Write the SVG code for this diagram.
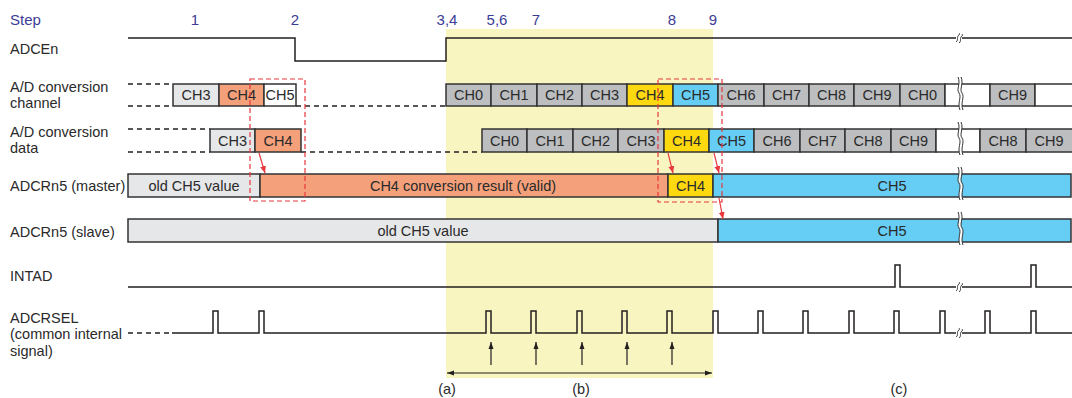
<svg xmlns="http://www.w3.org/2000/svg" xmlns:xlink="http://www.w3.org/1999/xlink" width="1072" height="398" viewBox="0 0 1072 398">
<style>
text{font-family:"Liberation Sans",Arial,Helvetica,sans-serif;font-size:14.5px;fill:#2a2a2a}
.step{fill:#3c3c96;font-size:15px}
.c{text-anchor:middle}
.box{stroke:#333;stroke-width:1.5}
.gy{fill:#bcbec0}
.lg{fill:#e6e7e8}
.or{fill:#f4a07a}
.ye{fill:#ffd90f}
.bl{fill:#66cdf5}
.wh{fill:#fff}
.sig{fill:none;stroke:#231f20;stroke-width:1.5}
.dash{fill:none;stroke:#231f20;stroke-width:1.5;stroke-dasharray:5,4}
.red{fill:none;stroke:#e8383d;stroke-width:1.2;stroke-dasharray:5,3}
.rarr{fill:none;stroke:#e8383d;stroke-width:1.2;marker-end:url(#rhead)}
.karr{fill:none;stroke:#231f20;stroke-width:1.2}
.bk{fill:none;stroke:#333;stroke-width:1}
</style>
<defs>
<marker id="rhead" markerWidth="8" markerHeight="8" refX="7" refY="4" orient="auto" markerUnits="userSpaceOnUse"><path d="M0,1 L7,4 L0,7 Z" fill="#e8383d"/></marker>
<marker id="khead" markerWidth="8" markerHeight="8" refX="7" refY="4" orient="auto-start-reverse" markerUnits="userSpaceOnUse"><path d="M0,1.5 L7,4 L0,6.5 Z" fill="#231f20"/></marker>
<g id="brkBox">
<path d="M-2,-5 C1,2 -4,7 -1,11 C2,15 -3,21 0,28 L3,28 C0,21 5,15 2,11 C-1,7 4,2 1,-5 Z" fill="#fff"/>
<path class="bk" d="M-2,-5 C1,2 -4,7 -1,11 C2,15 -3,21 0,28"/>
<path class="bk" d="M1,-5 C4,2 -1,7 2,11 C5,15 0,21 3,28"/>
</g>
<g id="brkSig">
<rect x="-3" y="-5" width="6" height="10" fill="#fff"/>
<path class="bk" d="M-3,4 C0,2 -3,-1 0,-3 C1,-4 0,-5 0,-5"/>
<path class="bk" d="M0,5 C3,3 0,0 3,-2 C4,-3 3,-4 3,-4"/>
</g>
</defs>
<rect x="0" y="0" width="1072" height="398" fill="#fff"/>
<rect id="windowB" x="446" y="29" width="267" height="349" fill="#f8f5c0"/>

<g id="labels">
<text x="10" y="25" class="step">Step</text>
<text x="10" y="54">ADCEn</text>
<text x="10" y="92">A/D conversion</text>
<text x="10" y="108">channel</text>
<text x="10" y="137">A/D conversion</text>
<text x="10" y="153">data</text>
<text x="10" y="191">ADCRn5 (master)</text>
<text x="10" y="237">ADCRn5 (slave)</text>
<text x="10" y="281">INTAD</text>
<text x="10" y="323">ADCRSEL</text>
<text x="10" y="339">(common internal</text>
<text x="10" y="356">signal)</text>
</g>

<g id="steps">
<text x="195" y="25" class="step c">1</text>
<text x="295" y="25" class="step c">2</text>
<text x="447" y="25" class="step c">3,4</text>
<text x="497" y="25" class="step c">5,6</text>
<text x="536" y="25" class="step c">7</text>
<text x="672" y="25" class="step c">8</text>
<text x="713" y="25" class="step c">9</text>
</g>

<g id="adcen">
<path class="sig" d="M128,38 H295 V61 H446 V38 H1072"/>
<use xlink:href="#brkSig" transform="translate(959,38)"/>
</g>

<g id="channel">
<path class="dash" d="M128,84 H173 M128,106 H173 M296,106 H446"/>
<rect class="box lg" x="173" y="84" width="46" height="22"/>
<rect class="box or" x="219" y="84" width="45" height="22"/>
<rect class="box wh" x="264" y="84" width="32" height="22"/>
<text x="196" y="100" class="c">CH3</text>
<text x="241.5" y="100" class="c">CH4</text>
<text x="280" y="100" class="c">CH5</text>
<rect class="box gy" x="446" y="84" width="45" height="22"/>
<rect class="box gy" x="491" y="84" width="46" height="22"/>
<rect class="box gy" x="537" y="84" width="45" height="22"/>
<rect class="box gy" x="582" y="84" width="45" height="22"/>
<rect class="box ye" x="627" y="84" width="46" height="22"/>
<rect class="box bl" x="673" y="84" width="45" height="22"/>
<rect class="box gy" x="718" y="84" width="46" height="22"/>
<rect class="box gy" x="764" y="84" width="45" height="22"/>
<rect class="box gy" x="809" y="84" width="45" height="22"/>
<rect class="box gy" x="854" y="84" width="46" height="22"/>
<rect class="box gy" x="900" y="84" width="45" height="22"/>
<rect class="box wh" x="945" y="84" width="45" height="22"/>
<rect class="box gy" x="990" y="84" width="45" height="22"/>
<rect class="box wh" x="1035" y="84" width="40" height="22"/>
<text x="468.5" y="100" class="c">CH0</text>
<text x="514" y="100" class="c">CH1</text>
<text x="559.5" y="100" class="c">CH2</text>
<text x="604.5" y="100" class="c">CH3</text>
<text x="650" y="100" class="c">CH4</text>
<text x="695.5" y="100" class="c">CH5</text>
<text x="741" y="100" class="c">CH6</text>
<text x="786.5" y="100" class="c">CH7</text>
<text x="831.5" y="100" class="c">CH8</text>
<text x="877" y="100" class="c">CH9</text>
<text x="922.5" y="100" class="c">CH0</text>
<text x="1012.5" y="100" class="c">CH9</text>
<use xlink:href="#brkBox" transform="translate(960,82)"/>
</g>

<g id="data">
<path class="dash" d="M128,129 H210 M128,152 H210 M301,152 H482"/>
<rect class="box lg" x="210" y="129" width="45" height="23"/>
<rect class="box or" x="255" y="129" width="46" height="23"/>
<text x="232.5" y="146" class="c">CH3</text>
<text x="278" y="146" class="c">CH4</text>
<rect class="box gy" x="482" y="129" width="45" height="23"/>
<rect class="box gy" x="527" y="129" width="46" height="23"/>
<rect class="box gy" x="573" y="129" width="45" height="23"/>
<rect class="box gy" x="618" y="129" width="46" height="23"/>
<rect class="box ye" x="664" y="129" width="45" height="23"/>
<rect class="box bl" x="709" y="129" width="45" height="23"/>
<rect class="box gy" x="754" y="129" width="46" height="23"/>
<rect class="box gy" x="800" y="129" width="45" height="23"/>
<rect class="box gy" x="845" y="129" width="46" height="23"/>
<rect class="box gy" x="891" y="129" width="45" height="23"/>
<rect class="box wh" x="936" y="129" width="44" height="23"/>
<rect class="box gy" x="980" y="129" width="46" height="23"/>
<rect class="box gy" x="1026" y="129" width="49" height="23"/>
<text x="504.5" y="146" class="c">CH0</text>
<text x="550" y="146" class="c">CH1</text>
<text x="595.5" y="146" class="c">CH2</text>
<text x="641" y="146" class="c">CH3</text>
<text x="686.5" y="146" class="c">CH4</text>
<text x="731.5" y="146" class="c">CH5</text>
<text x="777" y="146" class="c">CH6</text>
<text x="822.5" y="146" class="c">CH7</text>
<text x="868" y="146" class="c">CH8</text>
<text x="913.5" y="146" class="c">CH9</text>
<text x="1003" y="146" class="c">CH8</text>
<text x="1049" y="146" class="c">CH9</text>
<use xlink:href="#brkBox" transform="translate(960,127)"/>
</g>

<g id="master">
<rect class="box lg" x="128" y="174" width="132" height="23"/>
<rect class="box or" x="260" y="174" width="408" height="23"/>
<rect class="box ye" x="668" y="174" width="45" height="23"/>
<rect class="box bl" x="713" y="174" width="358" height="23"/>
<text x="194" y="191" class="c">old CH5 value</text>
<text x="463" y="191" class="c">CH4 conversion result (valid)</text>
<text x="690.5" y="191" class="c">CH4</text>
<text x="892" y="191" class="c">CH5</text>
<use xlink:href="#brkBox" transform="translate(960,172)"/>
</g>

<g id="slave">
<rect class="box lg" x="128" y="219" width="590" height="23"/>
<rect class="box bl" x="718" y="219" width="353" height="23"/>
<text x="423" y="236" class="c">old CH5 value</text>
<text x="892" y="236" class="c">CH5</text>
<use xlink:href="#brkBox" transform="translate(960,217)"/>
</g>

<g id="intad">
<path class="sig" d="M128,287 H895 V265 H900 V287 H1031 V265 H1036 V287 H1072"/>
<use xlink:href="#brkSig" transform="translate(959,287)"/>
</g>

<g id="adcrsel">
<path class="dash" d="M128,333 H172"/>
<path class="sig" d="M172,333 H213 V311 H218 V333 H259 V311 H264 V333 H486 V311 H491 V333 H531 V311 H536 V333 H577 V311 H582 V333 H622 V311 H627 V333 H667 V311 H672 V333 H713 V311 H718 V333 H758 V311 H763 V333 H803 V311 H808 V333 H849 V311 H854 V333 H894 V311 H899 V333 H940 V311 H945 V333 H985 V311 H990 V333 H1031 V311 H1036 V333 H1072"/>
<use xlink:href="#brkSig" transform="translate(959,333)"/>
</g>

<g id="highlights">
<rect class="red" x="250" y="79" width="55" height="122"/>
<rect class="red" x="658" y="79" width="64" height="123"/>
</g>

<g id="connectors">
<path class="rarr" d="M259,153 L265,173"/>
<path class="rarr" d="M668,153 L673,173"/>
<path class="rarr" d="M714,153 L719,173"/>
<path class="rarr" d="M719,198 L723,219"/>
<path class="karr" d="M491,365 V342" marker-end="url(#khead)"/>
<path class="karr" d="M536,365 V342" marker-end="url(#khead)"/>
<path class="karr" d="M582,365 V342" marker-end="url(#khead)"/>
<path class="karr" d="M627,365 V342" marker-end="url(#khead)"/>
<path class="karr" d="M672,365 V342" marker-end="url(#khead)"/>
<path class="karr" d="M447,373 H712" marker-start="url(#khead)" marker-end="url(#khead)"/>
</g>

<g id="periods">
<text x="447" y="394" class="c">(a)</text>
<text x="581" y="394" class="c">(b)</text>
<text x="899" y="394" class="c">(c)</text>
</g>
</svg>
